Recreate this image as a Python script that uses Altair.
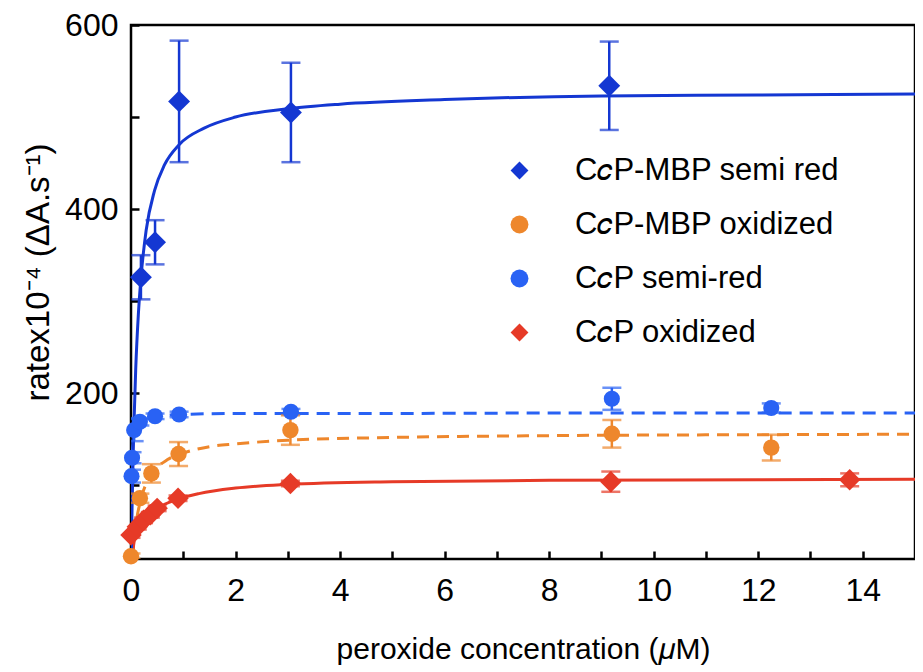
import altair as alt
import pandas as pd

# ---------------- data ----------------
series_names = ["C\U0001D450P-MBP semi red", "C\U0001D450P-MBP oxidized",
                "C\U0001D450P semi-red", "C\U0001D450P oxidized"]

# CcP-MBP semi red (dark blue diamonds)
mbp_semi_x = [0.19, 0.46, 0.92, 3.06, 9.15]
mbp_semi_y = [326, 364, 517, 505, 534]
mbp_semi_err = [24, 24, 66, 54, 48]

# CcP-MBP oxidized (orange circles)
mbp_ox_x = [0.0, 0.17, 0.39, 0.91, 3.05, 9.2, 12.25]
mbp_ox_y = [23, 86, 113, 134, 160, 156, 141]
mbp_ox_err = [3, 5, 10, 13, 16, 15, 14]

# CcP semi-red (bright blue circles)
cp_semi_x = [0.01, 0.02, 0.06, 0.17, 0.46, 0.92, 3.06, 9.2, 12.25]
cp_semi_y = [110, 130, 160, 169, 175, 177, 180, 194, 184]
cp_semi_err = [7, 6, 12, 4, 3, 3, 3, 12, 5]

# CcP oxidized (red diamonds)
cp_ox_x = [0.0, 0.12, 0.24, 0.37, 0.5, 0.9, 3.05, 9.18, 13.75]
cp_ox_y = [46, 55, 62, 68, 75, 86, 102, 104, 106]
cp_ox_err = [3, 3, 3, 3, 3, 3, 3, 11, 7]

# fitted curves
fit_mbp_semi_x = [0, 0.02, 0.05, 0.09, 0.14, 0.19, 0.29, 0.45, 0.64, 0.92, 1.4, 2.0, 3.0, 4.0, 6.0, 9.0, 12.0, 15.0]
fit_mbp_semi_y = [0, 75, 155, 226, 285, 325, 377, 420, 448, 470, 488, 500, 509, 514, 519, 523, 524, 525]

fit_cp_semi_x = [0, 0.01, 0.02, 0.04, 0.07, 0.12, 0.2, 0.35, 0.6, 1.0, 2.0, 4.0, 8.0, 15.0]
fit_cp_semi_y = [0, 95, 125, 148, 160, 167, 171, 174, 176, 177, 178, 178, 178.5, 178.5]

fit_mbp_ox_x = [0, 0.05, 0.1, 0.2, 0.4, 0.7, 1.0, 1.5, 2.0, 3.0, 5.0, 8.0, 12.0, 15.0]
fit_mbp_ox_y = [0, 37, 60, 87, 112, 128, 135, 142, 145, 149, 152, 154, 155, 155.5]

fit_cp_ox_x = [0, 0.05, 0.1, 0.2, 0.3, 0.5, 0.9, 1.3, 2.0, 3.0, 5.0, 8.0, 12.0, 15.0]
fit_cp_ox_y = [0, 35, 50, 60, 66, 75, 85, 91, 97, 101, 104, 105.5, 106, 106.5]

x_ticks = list(range(16))
y_ticks = [100, 200, 300, 400, 500, 600]

# ---------------- styles ----------------
colors = ["#1437d2", "#ee872c", "#2962f4", "#e63a27"]
shapes = ["diamond", "circle", "circle", "diamond"]
marker_sizes = [480, 270, 260, 460]
FONT = "Liberation Sans"

pts = []
for name, col, msz, xs, ys, es in zip(series_names, colors, marker_sizes,
                                      [mbp_semi_x, mbp_ox_x, cp_semi_x, cp_ox_x],
                                      [mbp_semi_y, mbp_ox_y, cp_semi_y, cp_ox_y],
                                      [mbp_semi_err, mbp_ox_err, cp_semi_err, cp_ox_err]):
    for x, y, e in zip(xs, ys, es):
        pts.append({"x": x, "y": y, "lo": y - e, "hi": y + e, "series": name,
                    "hex": col, "msize": msz})
pts = pd.DataFrame(pts)
caps = pts.melt(id_vars=["x", "hex"], value_vars=["lo", "hi"], value_name="cap")

xscale = alt.Scale(domain=[0, 15], nice=False, zero=False)
yscale = alt.Scale(domain=[20, 600], nice=False, zero=False)

xaxis = alt.Axis(values=x_ticks, labelExpr="datum.value % 2 == 0 ? datum.label : ''",
                 tickSize=8, offset=-8, domain=False, grid=False, labelFlush=False,
                 labelPadding=16, title="peroxide concentration (\U0001D707M)", titlePadding=28)
yaxis = alt.Axis(values=y_ticks, labelExpr="datum.value % 200 == 0 ? datum.label : ''",
                 tickSize=8, offset=-8, domain=False, grid=False,
                 labelPadding=13, title="ratex10\u207B\u2074 (\u0394A.s\u207B\u00B9)",
                 titlePadding=9, titleY=247, titleFontSize=33)

X = alt.X("x:Q", scale=xscale, axis=xaxis)
Y = alt.Y("y:Q", scale=yscale, axis=yaxis)

def fit_line(xs, ys, col, dash):
    df = pd.DataFrame({"x": xs, "y": ys})
    kw = dict(color=col, strokeWidth=3, interpolate="monotone", clip=True)
    if dash:
        kw["strokeDash"] = dash
    return alt.Chart(df).mark_line(**kw).encode(x=X, y=Y)

lines = [
    fit_line(fit_mbp_ox_x, fit_mbp_ox_y, colors[1], [12, 8]),
    fit_line(fit_cp_ox_x, fit_cp_ox_y, colors[3], None),
    fit_line(fit_cp_semi_x, fit_cp_semi_y, colors[2], [13, 8]),
    fit_line(fit_mbp_semi_x, fit_mbp_semi_y, colors[0], None),
]

rules = alt.Chart(pts).mark_rule(strokeWidth=2.5, clip=True).encode(
    x=X, y=alt.Y("lo:Q", scale=yscale, axis=yaxis), y2="hi:Q",
    color=alt.Color("hex:N", scale=None))
capmarks = alt.Chart(caps).mark_tick(orient="horizontal", size=19, thickness=2.5, clip=True).encode(
    x=X, y=alt.Y("cap:Q", scale=yscale, axis=yaxis), color=alt.Color("hex:N", scale=None))

points = alt.Chart(pts).mark_point(filled=True, opacity=1, strokeWidth=0).encode(
    x=X, y=Y,
    color=alt.Color("series:N", scale=alt.Scale(domain=series_names, range=colors), title=None),
    shape=alt.Shape("series:N", scale=alt.Scale(domain=series_names, range=shapes), title=None),
    size=alt.Size("msize:Q", scale=None),
)

chart = alt.layer(*lines, rules, capmarks, points).properties(
    width=784, height=534,
    padding={"left": 123, "top": 17, "right": 0, "bottom": 113},
    autosize=alt.AutoSizeParams(type="none"),
).configure_view(
    stroke="black", strokeWidth=2.5
).configure_axis(
    labelFont=FONT, labelFontSize=32, labelColor="black",
    titleFont=FONT, titleFontSize=30, titleFontWeight="normal", titleColor="black",
    tickColor="black", tickWidth=2.5,
).configure_legend(
    orient="none", legendX=373, legendY=130, padding=0,
    labelFont=FONT, labelFontSize=31, labelColor="black", labelOffset=40, labelLimit=0,
    rowPadding=22, symbolSize=320, symbolStrokeWidth=0, symbolOpacity=1,
)

chart.save("out.html", embed_options={"renderer": "svg", "actions": False})
